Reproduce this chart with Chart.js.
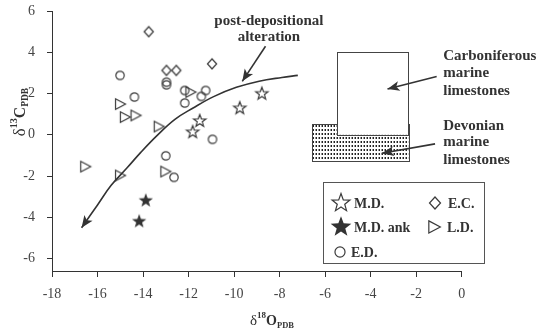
<!DOCTYPE html>
<html><head><meta charset="utf-8">
<script src="https://cdn.jsdelivr.net/npm/chart.js@4/dist/chart.umd.min.js"></script>
<style>html,body{margin:0;padding:0;background:#fff}canvas{display:block}</style>
</head><body>
<canvas id="c" width="542" height="334"></canvas>
<script>
// ---- data ----
const xTicks = [-18, -16, -14, -12, -10, -8, -6, -4, -2, 0];
const yTicks = [-6, -4, -2, 0, 2, 4, 6];

const mdX = [-11.51, -11.82, -9.75, -8.78];
const mdY = [0.67, 0.13, 1.29, 1.99];
const ankX = [-13.88, -14.17];
const ankY = [-3.19, -4.2];
const edX = [-15.01, -12.97, -12.97, -14.38, -12.17, -12.17, -11.44, -11.25, -10.95, -13.0, -12.64];
const edY = [2.88, 2.55, 2.42, 1.83, 2.15, 1.54, 1.86, 2.15, -0.22, -1.02, -2.06];
const ecX = [-13.75, -12.97, -12.54, -10.97];
const ecY = [5.0, 3.12, 3.12, 3.44];
const ldX = [-15.01, -14.8, -14.33, -13.31, -11.92, -16.54, -15.01, -13.02];
const ldY = [1.49, 0.86, 0.94, 0.40, 2.07, -1.54, -1.97, -1.78];

const curveX = [-16.7, -16.0, -15.4, -14.7, -14.1, -13.4, -12.6, -11.8, -10.9, -9.9, -8.9, -7.9, -7.2];
const curveY = [-4.5, -3.4, -2.45, -1.6, -0.85, -0.05, 0.75, 1.3, 1.85, 2.3, 2.6, 2.78, 2.88];

const carbX = [-5.47, -2.34];
const carbY = [0, 4.0];
const devX = [-6.58, -2.34];
const devY = [-1.25, 0.53];

const postArrow = [[-8.62, 4.29], [-9.64, 2.59]];
const carbArrow = [[-1.10, 2.83], [-3.26, 2.22]];
const devArrow = [[-1.17, -0.44], [-3.51, -0.89]];

const postText = ['post-depositional', 'alteration'];
const carbText = ['Carboniferous', 'marine', 'limestones'];
const devText = ['Devonian', 'marine', 'limestones'];
const legendItems = [
  ['star', 'M.D.'], ['diamond', 'E.C.'],
  ['starF', 'M.D. ank'], ['tri', 'L.D.'],
  ['circle', 'E.D.']
];

// ---- drawing helpers ----
const INK = '#333';
const SERIF = '"Liberation Serif", "Times New Roman", serif';
function starPath(ctx, cx, cy, R, r) {
  ctx.beginPath();
  for (let i = 0; i < 10; i++) {
    const a = -Math.PI / 2 + i * Math.PI / 5;
    const rad = i % 2 ? r : R;
    ctx.lineTo(cx + rad * Math.cos(a), cy + rad * Math.sin(a));
  }
  ctx.closePath();
}
function drawShape(ctx, type, cx, cy, s) {
  ctx.save();
  ctx.strokeStyle = '#3a3a3a'; ctx.fillStyle = '#333'; ctx.lineWidth = 1.2;
  switch (type) {
    case 'star': starPath(ctx, cx, cy, 6.5 * s, 2.7 * s); ctx.stroke(); break;
    case 'starF': starPath(ctx, cx, cy, 7.5 * s, 3.1 * s); ctx.fill(); break;
    case 'circle': ctx.beginPath(); ctx.arc(cx, cy, 4.2 * s, 0, 2 * Math.PI); ctx.stroke(); break;
    case 'diamond': ctx.beginPath(); ctx.moveTo(cx, cy - 5 * s); ctx.lineTo(cx + 4.6 * s, cy);
      ctx.lineTo(cx, cy + 5 * s); ctx.lineTo(cx - 4.6 * s, cy); ctx.closePath(); ctx.stroke(); break;
    case 'tri': ctx.beginPath(); ctx.moveTo(cx - 4.5 * s, cy - 5.3 * s); ctx.lineTo(cx + 5.5 * s, cy);
      ctx.lineTo(cx - 4.5 * s, cy + 5.3 * s); ctx.closePath(); ctx.stroke(); break;
  }
  ctx.restore();
}
function markerCanvas(type) {
  const c = document.createElement('canvas'); c.width = 24; c.height = 24;
  drawShape(c.getContext('2d'), type, 12, 12, 1); return c;
}
function arrowHead(ctx, x0, y0, x1, y1, len, half) {
  const a = Math.atan2(y1 - y0, x1 - x0);
  ctx.beginPath();
  ctx.moveTo(x1, y1);
  ctx.lineTo(x1 - len * Math.cos(a) + half * Math.sin(a), y1 - len * Math.sin(a) - half * Math.cos(a));
  ctx.lineTo(x1 - len * 0.75 * Math.cos(a), y1 - len * 0.75 * Math.sin(a));
  ctx.lineTo(x1 - len * Math.cos(a) - half * Math.sin(a), y1 - len * Math.sin(a) + half * Math.cos(a));
  ctx.closePath(); ctx.fill();
}
function richText(ctx, parts, x, y) {
  let w = 0;
  parts.forEach(p => { ctx.font = p.font; p.w = ctx.measureText(p.t).width; w += p.w; });
  let cx = x - w / 2;
  ctx.textAlign = 'left'; ctx.textBaseline = 'alphabetic';
  parts.forEach(p => { ctx.font = p.font; ctx.fillText(p.t, cx, y + p.dy); cx += p.w; });
}
const dotPat = (() => {
  const c = document.createElement('canvas'); c.width = 3; c.height = 4;
  const g = c.getContext('2d'); g.fillStyle = '#fff'; g.fillRect(0, 0, 3, 4);
  g.fillStyle = '#222'; g.fillRect(1, 1, 1, 2); g.fillStyle = '#999'; g.fillRect(0, 1, 1, 2);
  return c;
})();

const toPts = (xs, ys) => xs.map((x, i) => ({ x, y: ys[i] }));

const overlay = {
  id: 'overlay',
  beforeDatasetsDraw(chart) {
    const { ctx, scales: { x, y } } = chart;
    ctx.save();
    const dx0 = x.getPixelForValue(devX[0]), dx1 = x.getPixelForValue(devX[1]);
    const dy0 = y.getPixelForValue(devY[1]), dy1 = y.getPixelForValue(devY[0]);
    ctx.fillStyle = ctx.createPattern(dotPat, 'repeat');
    ctx.fillRect(dx0, dy0, dx1 - dx0, dy1 - dy0);
    ctx.strokeStyle = '#444'; ctx.lineWidth = 1;
    ctx.strokeRect(Math.round(dx0) + 0.5, Math.round(dy0) + 0.5, Math.round(dx1 - dx0), Math.round(dy1 - dy0));
    const cx0 = x.getPixelForValue(carbX[0]), cx1 = x.getPixelForValue(carbX[1]);
    const cy0 = y.getPixelForValue(carbY[1]), cy1 = y.getPixelForValue(carbY[0]);
    ctx.fillStyle = '#fff';
    ctx.fillRect(cx0, cy0, cx1 - cx0, cy1 - cy0);
    ctx.strokeRect(Math.round(cx0) + 0.5, Math.round(cy0) + 0.5, Math.round(cx1 - cx0), Math.round(cy1 - cy0));
    ctx.restore();
  },
  afterDraw(chart) {
    const { ctx, scales: { x, y } } = chart;
    ctx.save();
    ctx.fillStyle = INK; ctx.strokeStyle = INK;
    const px0 = x.getPixelForValue(curveX[1]), py0 = y.getPixelForValue(curveY[1]);
    const px1 = x.getPixelForValue(curveX[0]), py1 = y.getPixelForValue(curveY[0]);
    arrowHead(ctx, px0, py0, px1, py1, 12, 5);
    [postArrow, carbArrow, devArrow].forEach(a => {
      const ax0 = x.getPixelForValue(a[0][0]), ay0 = y.getPixelForValue(a[0][1]);
      const ax1 = x.getPixelForValue(a[1][0]), ay1 = y.getPixelForValue(a[1][1]);
      ctx.lineWidth = 1.6;
      ctx.beginPath(); ctx.moveTo(ax0, ay0); ctx.lineTo(ax1, ay1); ctx.stroke();
      arrowHead(ctx, ax0, ay0, ax1, ay1, 12, 5);
    });
    ctx.font = 'bold 15px ' + SERIF; ctx.textBaseline = 'middle';
    ctx.textAlign = 'center';
    ctx.fillText(postText[0], x.getPixelForValue(-8.47), y.getPixelForValue(5.5));
    ctx.fillText(postText[1], x.getPixelForValue(-8.47), y.getPixelForValue(4.74));
    ctx.textAlign = 'left';
    const carbYs = [3.80, 3.01, 2.10], devYs = [0.44, -0.37, -1.25];
    carbText.forEach((t, i) => ctx.fillText(t, x.getPixelForValue(-0.81), y.getPixelForValue(carbYs[i])));
    devText.forEach((t, i) => ctx.fillText(t, x.getPixelForValue(-0.81), y.getPixelForValue(devYs[i])));
    ctx.fillStyle = '#fff'; ctx.fillRect(323, 182, 161, 81);
    ctx.strokeStyle = '#555'; ctx.lineWidth = 1; ctx.strokeRect(323.5, 182.5, 161, 81);
    const pos = [[341, 203], [435, 203], [341, 227], [434, 227], [340, 252]];
    const scl = { star: 1.45, starF: 1.45, diamond: 1.2, tri: 1.15, circle: 1.2 };
    ctx.fillStyle = INK; ctx.font = 'bold 14px ' + SERIF; ctx.textAlign = 'left'; ctx.textBaseline = 'middle';
    legendItems.forEach((it, i) => {
      const [mx, my] = pos[i];
      drawShape(ctx, it[0], mx, my, scl[it[0]]);
      ctx.fillStyle = INK;
      ctx.fillText(it[1], mx + (it[0] === 'circle' ? 11 : 13), my + 1);
    });
    ctx.fillStyle = INK;
    const parts = (big, k) => [
      { t: 'δ', font: (15 * k) + 'px ' + SERIF, dy: 0 },
      { t: big[0], font: 'bold ' + (9 * k) + 'px ' + SERIF, dy: -7 * k },
      { t: big[1], font: 'bold ' + (14 * k) + 'px ' + SERIF, dy: 0 },
      { t: 'PDB', font: 'bold ' + (8.5 * k) + 'px ' + SERIF, dy: 3 * k }
    ];
    richText(ctx, parts(['18', 'O'], 1), 272, 325);
    ctx.translate(25, 112); ctx.rotate(-Math.PI / 2);
    richText(ctx, parts(['13', 'C'], 1.12), 0, 0);
    ctx.restore();
  }
};

const scatterDs = (label, xs, ys, type) => ({
  type: 'scatter', label, data: toPts(xs, ys),
  pointStyle: markerCanvas(type), pointRadius: 5, pointHoverRadius: 5
});

new Chart(document.getElementById('c'), {
  data: {
    datasets: [
      { type: 'line', label: 'alteration', data: toPts(curveX, curveY), borderColor: INK, borderWidth: 1.6,
        pointRadius: 0, tension: 0.4, fill: false },
      scatterDs('E.D.', edX, edY, 'circle'),
      scatterDs('E.C.', ecX, ecY, 'diamond'),
      scatterDs('L.D.', ldX, ldY, 'tri'),
      scatterDs('M.D.', mdX, mdY, 'star'),
      scatterDs('M.D. ank', ankX, ankY, 'starF')
    ]
  },
  options: {
    responsive: false, animation: false, devicePixelRatio: 1,
    layout: { padding: { left: 0, right: 80.3, top: 11, bottom: 0 } },
    plugins: { legend: { display: false }, tooltip: { enabled: false } },
    scales: {
      x: {
        type: 'linear', min: -18, max: 0,
        afterBuildTicks: s => { s.ticks = xTicks.map(v => ({ value: v })); },
        afterFit: s => { s.height = 63; s.paddingLeft = 0; s.paddingRight = 0; },
        grid: { display: true, drawOnChartArea: false, drawTicks: true, tickLength: 6, color: INK },
        border: { display: true, color: INK, width: 1 },
        ticks: { font: { family: SERIF, size: 14 }, color: '#444', padding: 9, maxRotation: 0, autoSkip: false }
      },
      y: {
        type: 'linear', min: -6.6, max: 6,
        afterBuildTicks: s => { s.ticks = yTicks.map(v => ({ value: v })); },
        afterFit: s => { s.width = 52; s.paddingTop = 0; s.paddingBottom = 0; },
        grid: { display: true, drawOnChartArea: false, drawTicks: true, tickLength: 5, color: INK },
        border: { display: true, color: INK, width: 1 },
        ticks: { font: { family: SERIF, size: 14 }, color: '#444', padding: 12, autoSkip: false }
      }
    }
  },
  plugins: [overlay]
});
</script>
</body></html>
